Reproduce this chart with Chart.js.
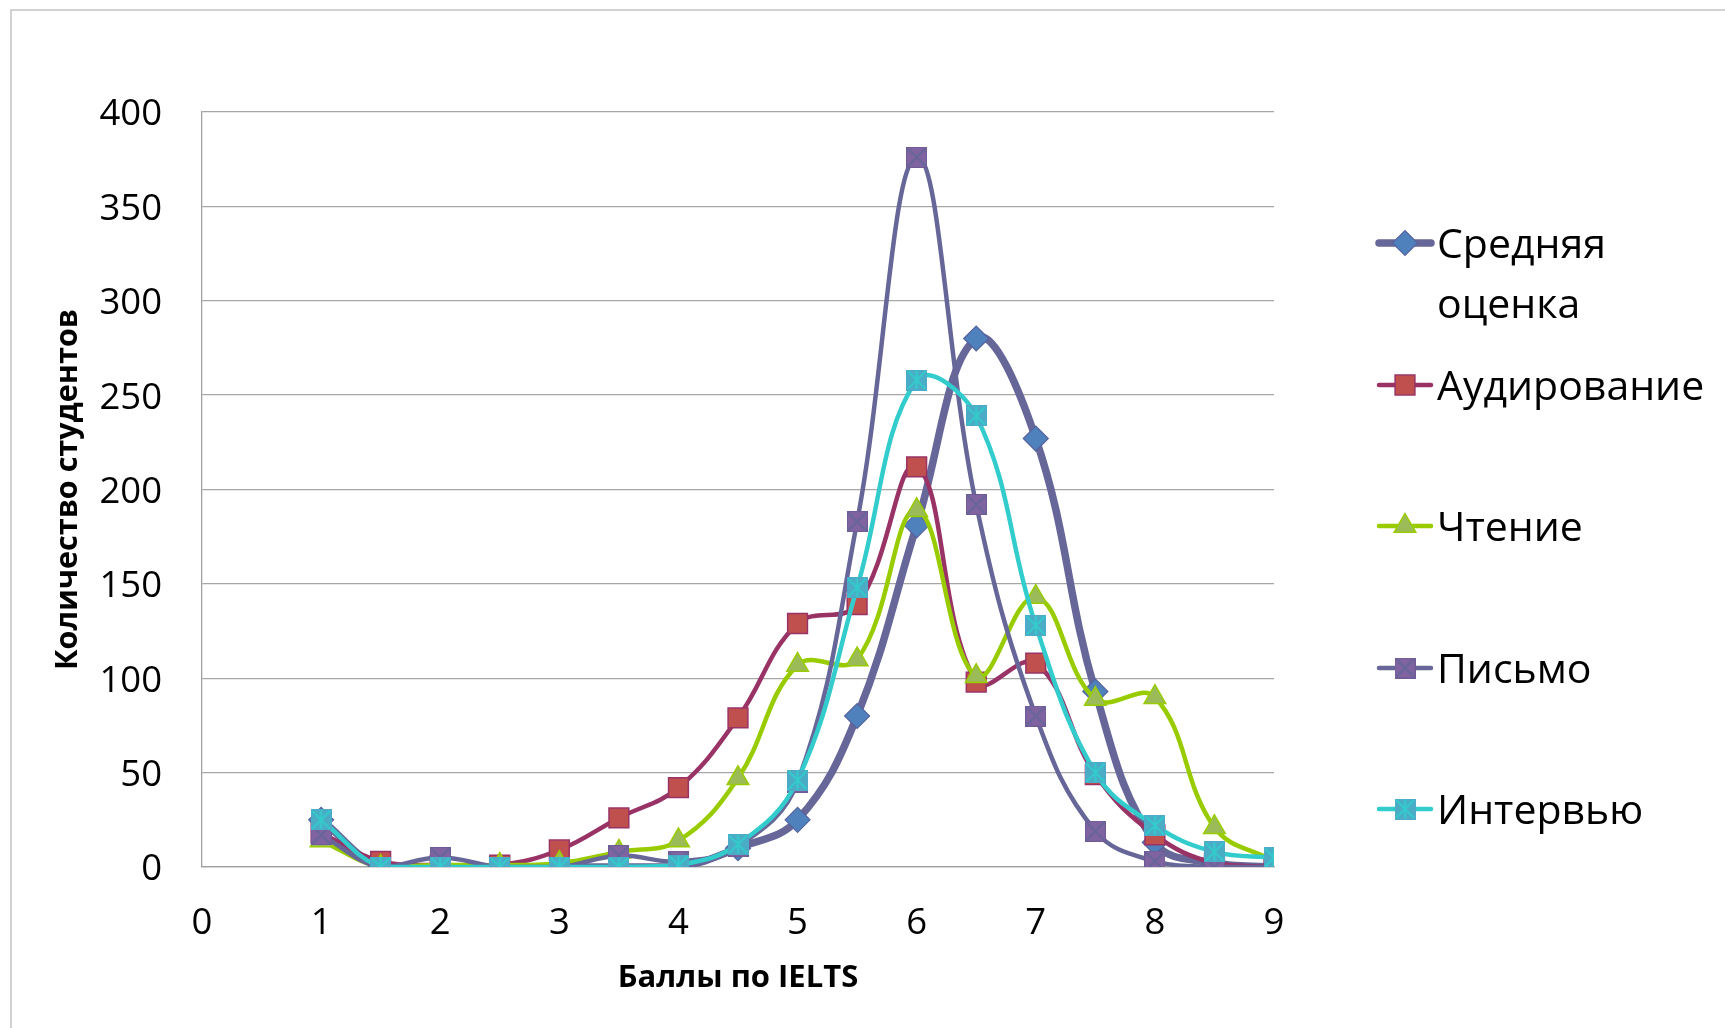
<!DOCTYPE html>
<html><head><meta charset="utf-8">
<script src="https://cdn.jsdelivr.net/npm/chart.js@4.4.0/dist/chart.umd.min.js"></script>
<style>html,body{margin:0;padding:0;background:#fff}#wrap{width:1725px;height:1028px;position:relative}</style>
</head><body><div id="wrap"><canvas id="c" width="1725" height="1028"></canvas></div>
<script>
const scores = [1,1.5,2,2.5,3,3.5,4,4.5,5,5.5,6,6.5,7,7.5,8,8.5,9];
const averageScore = [25,0,0,0,0,0,0,10,25,80,181,280,227,93,13,2,0];
const listening = [18,3,1,1,9,26,42,79,129,139,212,98,108,49,17,2,0];
const reading = [14,0,1,1,2,8,14,47,107,110,189,101,143,89,90,21,3];
const writing = [17,0,5,0,0,6,3,11,45,183,376,192,80,19,3,0,0];
const speaking = [25,0,0,0,0,0,1,12,46,148,258,239,128,50,22,8,5];
const seriesNames = ['Средняя оценка','Аудирование','Чтение','Письмо','Интервью'];
const xTickValues = [0,1,2,3,4,5,6,7,8,9];
const yTickValues = [0,50,100,150,200,250,300,350,400];
const xTitle = 'Баллы по IELTS';
const yTitle = 'Количество студентов';

function makeMarker(fill, stroke, withVertical) {
  const c = document.createElement('canvas');
  c.width = 21; c.height = 21;
  const g = c.getContext('2d');
  g.fillStyle = fill; g.fillRect(0, 0, 21, 21);
  g.strokeStyle = stroke; g.lineWidth = 2;
  g.beginPath();
  g.moveTo(1.5, 1.5); g.lineTo(19.5, 19.5);
  g.moveTo(19.5, 1.5); g.lineTo(1.5, 19.5);
  if (withVertical) { g.moveTo(10.5, 1); g.lineTo(10.5, 20); }
  g.stroke();
  g.strokeStyle = withVertical ? 'rgba(80,170,200,0.9)' : 'rgba(110,90,150,0.9)';
  g.lineWidth = 1; g.strokeRect(0.5, 0.5, 20, 20);
  return c;
}
const writingMarker = makeMarker('#8064A2', '#666699', false);
const speakingMarker = makeMarker('#4BACC6', '#33CCCC', true);

const toPts = arr => scores.map((x, i) => ({x: x, y: arr[i]}));

const datasets = [
  {label: seriesNames[0], data: toPts(averageScore), borderColor: '#666699', borderWidth: 7.5,
   pointStyle: 'rectRot', pointRadius: 12.5, pointBackgroundColor: '#4F81BD', pointBorderColor: '#56639E', pointBorderWidth: 1.2, order: 4},
  {label: seriesNames[1], data: toPts(listening), borderColor: '#993366', borderWidth: 4.5,
   pointStyle: 'rect', pointRadius: 14, pointBackgroundColor: '#C0504D', pointBorderColor: '#993366', pointBorderWidth: 1.5, order: 3},
  {label: seriesNames[2], data: toPts(reading), borderColor: '#99CC00', borderWidth: 4.5,
   pointStyle: 'triangle', pointRadius: 12.5, pointBackgroundColor: '#9BBB59', pointBorderColor: '#99CC00', pointBorderWidth: 1.5, order: 2},
  {label: seriesNames[3], data: toPts(writing), borderColor: '#666699', borderWidth: 4.5,
   pointStyle: writingMarker, pointRadius: 10.5, pointBackgroundColor: '#8064A2', pointBorderColor: '#666699', pointBorderWidth: 1, order: 1},
  {label: seriesNames[4], data: toPts(speaking), borderColor: '#33CCCC', borderWidth: 4.5,
   pointStyle: speakingMarker, pointRadius: 10.5, pointBackgroundColor: '#4BACC6', pointBorderColor: '#33CCCC', pointBorderWidth: 1, order: 0}
];
datasets.forEach(d => { d.tension = 0.4; d.fill = false; d.pointHoverRadius = d.pointRadius; });

const frame = {
  id: 'frame',
  beforeDraw(chart) {
    const ctx = chart.ctx;
    ctx.save();
    ctx.fillStyle = '#fff'; ctx.fillRect(0, 0, chart.width, chart.height);
    ctx.strokeStyle = '#C4C4C4'; ctx.lineWidth = 1.5;
    ctx.strokeRect(11, 10, 1800, 1100);
    ctx.restore();
  }
};

const sideLegend = {
  id: 'sideLegend',
  afterDraw(chart) {
    const ctx = chart.ctx;
    const rows = [243, 385, 526, 668, 809];
    const fs = 41;
    chart.data.datasets.forEach((ds, i) => {
      const y = rows[i];
      ctx.save();
      ctx.strokeStyle = ds.borderColor; ctx.lineWidth = ds.borderWidth; ctx.lineCap = 'round';
      ctx.beginPath(); ctx.moveTo(1379, y); ctx.lineTo(1431, y); ctx.stroke();
      ctx.fillStyle = ds.pointBackgroundColor; ctx.strokeStyle = ds.pointBorderColor; ctx.lineWidth = ds.pointBorderWidth;
      Chart.helpers.drawPoint(ctx, {pointStyle: ds.pointStyle, radius: ds.pointRadius, rotation: 0, borderWidth: ds.pointBorderWidth}, 1405, y);
      ctx.fillStyle = '#000';
      ctx.font = fs + 'px "Open Sans"';
      ctx.textBaseline = 'alphabetic'; ctx.textAlign = 'left';
      const words = ds.label.split(' ');
      const lines = []; let cur = '';
      words.forEach(w => {
        const t = cur ? cur + ' ' + w : w;
        if (cur && ctx.measureText(t).width > 285) { lines.push(cur); cur = w; } else cur = t;
      });
      lines.push(cur);
      lines.forEach((ln, k) => ctx.fillText(ln, 1437, y + 0.357 * fs + k * 60));
      ctx.restore();
    });
  }
};

new Chart(document.getElementById('c'), {
  type: 'line',
  data: {datasets: datasets},
  plugins: [frame, sideLegend],
  options: {
    responsive: false, animation: false, devicePixelRatio: 1,
    layout: {padding: {left: 46, right: 451, top: 112, bottom: 27}},
    plugins: {legend: {display: false}, tooltip: {enabled: false}},
    scales: {
      x: {
        type: 'linear', min: 0, max: 9,
        afterBuildTicks: s => { s.ticks = xTickValues.map(v => ({value: v})); },
        afterFit: s => { s.height = 1028 - 27 - 867; },
        grid: {display: false, drawTicks: false},
        border: {display: true, color: '#A0A0A0', width: 1.3},
        ticks: {color: '#000', font: {family: 'Open Sans', size: 36.5}, padding: 35, maxRotation: 0},
        title: {display: true, text: xTitle, color: '#000', font: {family: 'Open Sans', size: 31, weight: 'bold'}, padding: {top: 4, bottom: 4}}
      },
      y: {
        type: 'linear', min: 0, max: 400,
        afterBuildTicks: s => { s.ticks = yTickValues.map(v => ({value: v})); },
        afterFit: s => { s.width = 202 - 46; },
        grid: {color: '#A6A6A6', lineWidth: 1.3, drawTicks: false},
        border: {display: true, color: '#A0A0A0', width: 1.3},
        ticks: {color: '#000', font: {family: 'Open Sans', size: 36.5}, padding: 40, labelOffset: 3},
        title: {display: true, text: yTitle, color: '#000', font: {family: 'Open Sans', size: 30.5, weight: 'bold'}, padding: {top: 4, bottom: 4}}
      }
    }
  }
});
</script></body></html>
